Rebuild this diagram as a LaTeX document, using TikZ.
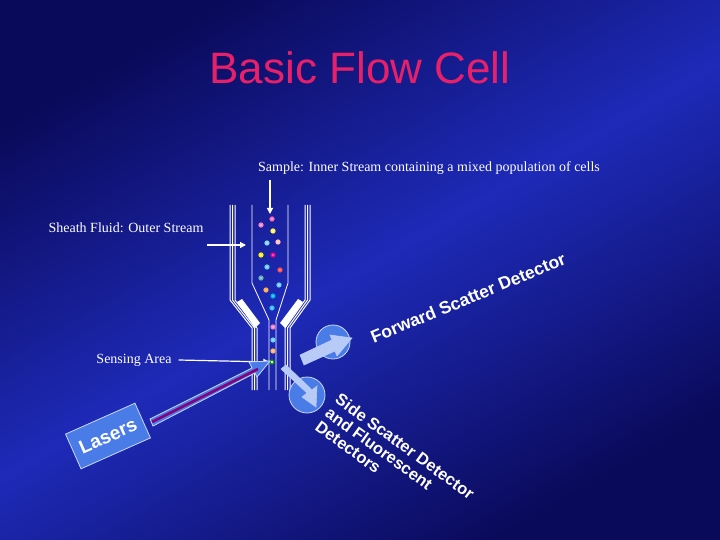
\documentclass[tikz,border=0pt]{standalone}
\usepackage{fontspec}
\setmainfont{Liberation Serif}
\newfontfamily\sans{Liberation Sans}
\usetikzlibrary{arrows.meta,shapes.arrows}
\definecolor{bgd}{HTML}{0A0A5A}
\definecolor{bgl}{HTML}{1E2AB8}
\definecolor{pk}{HTML}{E8206A}
\definecolor{bb}{HTML}{4A7CE8}
\begin{document}
\begin{tikzpicture}[x=1pt,y=-1pt,
  lab/.style={text=white,font=\fontsize{14}{14}\selectfont,inner sep=1pt},
  ptr/.style={white,line width=1.2pt,-{Triangle[length=6pt,width=6pt]}},
  tube/.style={white,line width=1pt},
  blk/.style={fill=bb,draw=white!70!bb,line width=0.8pt},
  det/.style={text=white,font=\sans\bfseries\fontsize{17.5}{17.5}\selectfont,inner sep=0pt},
  cell/.style={circle,minimum size=4pt,inner sep=0pt,line width=1.2pt}]
\shade[top color=bgd,bottom color=bgd,middle color=bgl,shading angle=30] (0,0) rectangle (720,540);
\useasboundingbox (0,0) rectangle (720,540);
\node[text=pk,font=\sans\fontsize{44}{44}\selectfont] (title) at (360,68) {Basic Flow Cell};
% outer tube
\foreach \d in {0,2.5,5}{
 \draw[tube] (230+\d,205) -- (230+\d,300) -- (252+\d,328) -- (252+\d,390);
 \draw[tube] (310-\d,205) -- (310-\d,300) -- (290-\d,328) -- (290-\d,390);}
\fill[white] (237,302) -- (242,299) -- (260,323) -- (255,328) -- cycle;
\fill[white] (303,302) -- (298,299) -- (280,323) -- (285,328) -- cycle;
% inner tube
\draw[tube,line width=0.8pt] (252,205) -- (252,283) -- (269,320) -- (269,390);
\draw[tube,line width=0.8pt] (288,205) -- (288,283) -- (276,320) -- (276,390);
% cells
\foreach \x/\y/\c in {272/219/magenta!60,261/225/magenta!50,273/231/yellow!70,267/243/cyan!50,278/242/pink,261/255/yellow,273/255/magenta,267/267/cyan!60,280/270/red!70,261/278/teal!60,279/285/cyan!60,266/290/orange!70,273/296/cyan,272/308/cyan!80,273/327/magenta!50,273/340/cyan!60,273/351/orange!60}
  \node[cell,draw=\c,fill=white!30!\c] at (\x,\y) {};
\node[cell,draw=green!60!black,fill=white] (sense) at (272,362) {};
% labels
\node[lab] (sample) at (429,168) {Sample: Inner Stream containing a mixed population of cells};
\coordinate (sampleEnd) at (270,214);
\draw[ptr] (270,180) -- (sampleEnd);
\node[lab] (sheath) at (126,228) {Sheath Fluid: Outer Stream};
\coordinate (sheathEnd) at (246,245);
\draw[ptr] (207,245) -- (sheathEnd);
\node[lab] (sensing) at (134,360) {Sensing Area};
\draw[ptr] (sensing.east) ++(6,0) -- (sense.west);
% laser
\node[blk,minimum width=76pt,minimum height=38pt,rotate=24,text=white,font=\sans\bfseries\fontsize{19}{19}\selectfont] (laser) at (108,436) {Lasers};
\draw[blk] (150,419) -- (252,368) -- (249,362) -- (270,361) -- (257,377) -- (255,373) -- (153,426) -- cycle;
\draw[purple!70!blue,line width=2.5pt] (152,422) -- (258,369);
% detectors
\node[blk,circle,minimum size=34pt] (fwd) at (333,342) {};
\node[blk,circle,minimum size=36pt] (side) at (307,395) {};
\draw[blk,line width=0.6pt,white!60!bb] (300,355) -- (332,340) -- (330,335) -- (352,338) -- (337,356) -- (335,351) -- (304,365) -- cycle;
\draw[blk,line width=0.6pt,white!60!bb] (281,369) -- (307,393) -- (302,397) -- (316,407) -- (317,386) -- (312,390) -- (286,365) -- cycle;
\node[det,rotate=22.5] (fwdlab) at (468,298) {Forward Scatter Detector};
\node[det,rotate=-36,align=left,anchor=north west,font=\sans\bfseries\fontsize{16.5}{17}\selectfont] (sidelab) at (341,392) {Side Scatter Detector\\and Fluorescent\\Detectors};
\end{tikzpicture}
\end{document}
